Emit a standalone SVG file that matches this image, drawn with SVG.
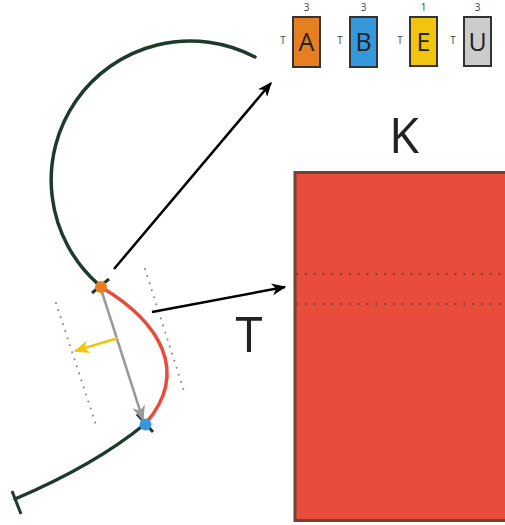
<svg xmlns="http://www.w3.org/2000/svg" width="505" height="525" viewBox="0 0 505 525">
<defs>
<style>
.lbl{font-family:"Open Sans","Noto Sans",sans-serif;fill:#222;text-anchor:middle}
.sm{fill:#444}
.box{stroke:#333;stroke-width:2}
.trace{fill:none;stroke:#1e3a2b;stroke-width:3.5;stroke-linecap:round}
.tick{stroke:#1e3a2b;stroke-width:3}
.dots{stroke:#888;stroke-width:2;stroke-dasharray:0.1 7.3;stroke-linecap:round;fill:none}
.arrow{stroke:#000;stroke-width:2.5;fill:none}
</style>
<marker id="ahBlack" viewBox="0 0 12 10" refX="11" refY="5" markerWidth="15" markerHeight="12" markerUnits="userSpaceOnUse" orient="auto">
<path d="M0,0 L12,5 L0,10 L3.5,5 z" fill="#000"/>
</marker>
<marker id="ahGray" viewBox="0 0 12 10" refX="11" refY="5" markerWidth="16" markerHeight="13" markerUnits="userSpaceOnUse" orient="auto">
<path d="M0,0 L12,5 L0,10 L3.5,5 z" fill="#999"/>
</marker>
<marker id="ahYellow" viewBox="0 0 12 10" refX="11" refY="5" markerWidth="16" markerHeight="13" markerUnits="userSpaceOnUse" orient="auto">
<path d="M0,0 L12,5 L0,10 L3.5,5 z" fill="#f1c40f"/>
</marker>
</defs>
<rect width="505" height="525" fill="#fff"/>

<g id="legend">
<g id="box-A">
<rect class="box" x="293" y="17" width="27" height="50" fill="#e67e22"/>
<text class="lbl" x="306.5" y="51" font-size="25">A</text>
<text class="lbl sm" x="306.5" y="11" font-size="10">3</text>
<text class="lbl sm" x="283" y="44" font-size="10">T</text>
</g>
<g id="box-B">
<rect class="box" x="350" y="17" width="27" height="50" fill="#3498db"/>
<text class="lbl" x="363.5" y="51" font-size="25">B</text>
<text class="lbl sm" x="363.5" y="11" font-size="10">3</text>
<text class="lbl sm" x="340" y="44" font-size="10">T</text>
</g>
<g id="box-E">
<rect class="box" x="410" y="17" width="27" height="49" fill="#f1c40f"/>
<text class="lbl" x="423.5" y="51" font-size="25">E</text>
<text class="lbl sm" x="423.5" y="11" font-size="10">1</text>
<text class="lbl sm" x="400" y="44" font-size="10">T</text>
</g>
<g id="box-U">
<rect class="box" x="464" y="17" width="27" height="49" fill="#cccccc"/>
<text class="lbl" x="477.5" y="51" font-size="25">U</text>
<text class="lbl sm" x="477.5" y="11" font-size="10">3</text>
<text class="lbl sm" x="453" y="44" font-size="10">T</text>
</g>
</g>

<g id="block-K">
<rect x="295" y="172.5" width="220" height="348" fill="#e74c3c" stroke="#6e4535" stroke-width="3"/>
<line x1="297" y1="274" x2="505" y2="274" stroke="#6e3a30" stroke-width="2" stroke-dasharray="0.1 8.7" stroke-linecap="round"/>
<line x1="297" y1="304" x2="505" y2="304" stroke="#6e3a30" stroke-width="2" stroke-dasharray="0.1 8.7" stroke-linecap="round"/>
<text class="lbl" x="404" y="153" font-size="49">K</text>
</g>

<g id="label-T">
<text class="lbl" x="249" y="352" font-size="49">T</text>
</g>

<g id="connectors">
<path class="trace" d="M98 284 A139 139 0 0 1 255 57"/>
<path class="trace" d="M145 424 Q95 465 15 499"/>
<line class="tick" x1="12" y1="491" x2="21" y2="514"/>
<line class="tick" x1="92" y1="293" x2="109" y2="279"/>
<line class="tick" x1="137" y1="414" x2="153" y2="432"/>
<line class="dots" x1="56" y1="303" x2="97" y2="428"/>
<line class="dots" x1="145" y1="269" x2="185" y2="394"/>
<path d="M101 287 C160 322 190 372 146 423" fill="none" stroke="#e74c3c" stroke-width="3.5"/>
<line x1="101" y1="289" x2="143" y2="420" stroke="#999" stroke-width="2.5" marker-end="url(#ahGray)"/>
<line x1="118" y1="338" x2="75" y2="351" stroke="#f1c40f" stroke-width="2.5" marker-end="url(#ahYellow)"/>
<line class="arrow" x1="114" y1="269" x2="271" y2="83" marker-end="url(#ahBlack)"/>
<line class="arrow" x1="152" y1="312" x2="285" y2="287" marker-end="url(#ahBlack)"/>
</g>

<g id="node-start">
<circle cx="101" cy="287" r="6" fill="#e67e22"/>
</g>
<g id="node-end">
<circle cx="145.5" cy="424.5" r="6" fill="#3498db"/>
</g>
</svg>
